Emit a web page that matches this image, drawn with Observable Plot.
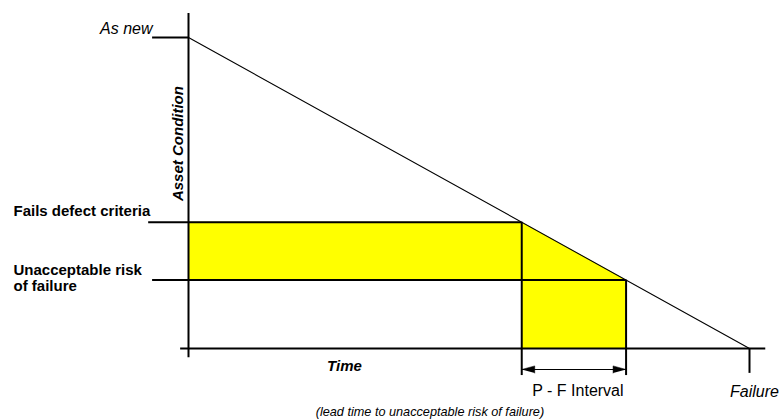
<!DOCTYPE html>
<html><head><meta charset="utf-8">
<script src="https://cdn.jsdelivr.net/npm/d3@7"></script>
<script src="https://cdn.jsdelivr.net/npm/@observablehq/plot@0.6"></script>
<style>body{margin:0;background:#fff}</style>
</head><body><div id="chart"></div>
<script>
// ---- data ----
const levelLabels = ["As new", "Fails defect criteria", "Unacceptable risk\nof failure"];
const levelValues = [100, 40.6, 22];          // asset condition (%)
const eventTimes = [59.4, 78];                 // P (fails criteria), unacceptable risk
const failureTime = 100;
const timeLabel = "Time";
const conditionLabel = "Asset Condition";
const failureLabel = "Failure";
const intervalLabel = "P - F Interval";
const intervalNote = "(lead time to unacceptable risk of failure)";

// ---- layout ----
const W = 781, H = 419, mL = 188, mR = 32, mT = 37, mB = 71;
const ux = failureTime / (W - mL - mR);        // time units per pixel
const uy = levelValues[0] / (H - mT - mB);     // condition units per pixel

const conditionLine = [{t: 0, c: levelValues[0]}, {t: failureTime, c: 0}];
const cond = t => levelValues[0] * (1 - t / failureTime);
const [P, F] = eventTimes;
const arrowY = -21 * uy;
const headL = 13, headW = 3.6;
const heads = [
  {z: "L", t: P, c: arrowY}, {z: "L", t: P + headL * ux, c: arrowY + headW * uy}, {z: "L", t: P + headL * ux, c: arrowY - headW * uy},
  {z: "R", t: F, c: arrowY}, {z: "R", t: F - headL * ux, c: arrowY + headW * uy}, {z: "R", t: F - headL * ux, c: arrowY - headW * uy}
];

const sans = "'Liberation Sans', Arial, sans-serif";

const chart = Plot.plot({
  width: W, height: H,
  marginLeft: mL, marginRight: mR, marginTop: mT, marginBottom: mB,
  x: {domain: [0, failureTime], axis: null},
  y: {domain: [0, levelValues[0]], axis: null},
  style: {background: "#fff"},
  marks: [
    // yellow regions
    Plot.rect([0], {x1: 0, x2: P, y1: levelValues[2], y2: levelValues[1], fill: "#ffff00"}),
    Plot.areaY(eventTimes, {x: d => d, y1: 0, y2: d => cond(d), fill: "#ffff00"}),
    // condition decline line
    Plot.line(conditionLine, {x: "t", y: "c", stroke: "black", strokeWidth: 1.1}),
    // axes
    Plot.ruleX([0], {y1: -3, y2: 107.7, stroke: "black", strokeWidth: 2}),
    Plot.ruleY([0], {x1: -1.4, x2: 102.9, stroke: "black", strokeWidth: 2}),
    // level lines
    Plot.ruleY([0, 1, 2], {y: i => levelValues[i], x1: i => i === 1 ? -7.1 : -6.4, x2: i => [0, P, F][i], stroke: "black", strokeWidth: 2}),
    // event verticals
    Plot.ruleX([0, 1], {x: i => eventTimes[i], y1: -8.7, y2: i => levelValues[i + 1], stroke: "black", strokeWidth: 2}),
    Plot.ruleX([failureTime], {y1: -8, y2: 0, stroke: "black", strokeWidth: 2}),
    // P-F interval arrow
    Plot.ruleY([arrowY], {x1: P, x2: F, stroke: "black", strokeWidth: 1}),
    Plot.line(heads, {x: "t", y: "c", z: "z", fill: "black", stroke: "black", strokeWidth: 0.5}),
    // labels
    Plot.text([levelLabels[0]], {x: 0, y: levelValues[0], text: d => d, textAnchor: "end", lineAnchor: "bottom", dx: -36, dy: -4, fontFamily: sans, fontStyle: "italic", fontSize: 16, fill: "black"}),
    Plot.text([levelLabels[1]], {x: 0, y: levelValues[1], text: d => d, textAnchor: "start", lineAnchor: "bottom", dx: -175, dy: -6, fontFamily: sans, fontWeight: "bold", fontSize: 15, fill: "black"}),
    Plot.text([levelLabels[2]], {x: 0, y: levelValues[2], text: d => d, textAnchor: "start", lineAnchor: "bottom", dx: -175, dy: 11, lineHeight: 1.1, fontFamily: sans, fontWeight: "bold", fontSize: 15, fill: "black"}),
    Plot.text([conditionLabel], {x: 0, y: 65.9, text: d => d, rotate: -90, textAnchor: "middle", lineAnchor: "bottom", dx: -6, fontFamily: sans, fontWeight: "bold", fontStyle: "italic", fontSize: 15, fill: "black"}),
    Plot.text([timeLabel], {x: 27.8, y: 0, text: d => d, textAnchor: "middle", lineAnchor: "bottom", dy: 22, fontFamily: sans, fontWeight: "bold", fontStyle: "italic", fontSize: 15, fill: "black"}),
    Plot.text([failureLabel], {x: failureTime, y: 0, text: d => d, textAnchor: "middle", lineAnchor: "bottom", dx: 5, dy: 48, fontFamily: sans, fontStyle: "italic", fontSize: 16, fill: "black"}),
    Plot.text([intervalLabel], {x: (P + F) / 2, y: 0, text: d => d, textAnchor: "middle", lineAnchor: "bottom", dx: 4, dy: 47, fontFamily: sans, fontSize: 16, fill: "black"}),
    Plot.text([intervalNote], {x: (P + F) / 2, y: 0, text: d => d, textAnchor: "middle", lineAnchor: "bottom", dx: -144, dy: 67, fontFamily: sans, fontStyle: "italic", fontSize: 12.7, fill: "black"})
  ]
});
document.getElementById("chart").appendChild(chart);
</script>
</body></html>
